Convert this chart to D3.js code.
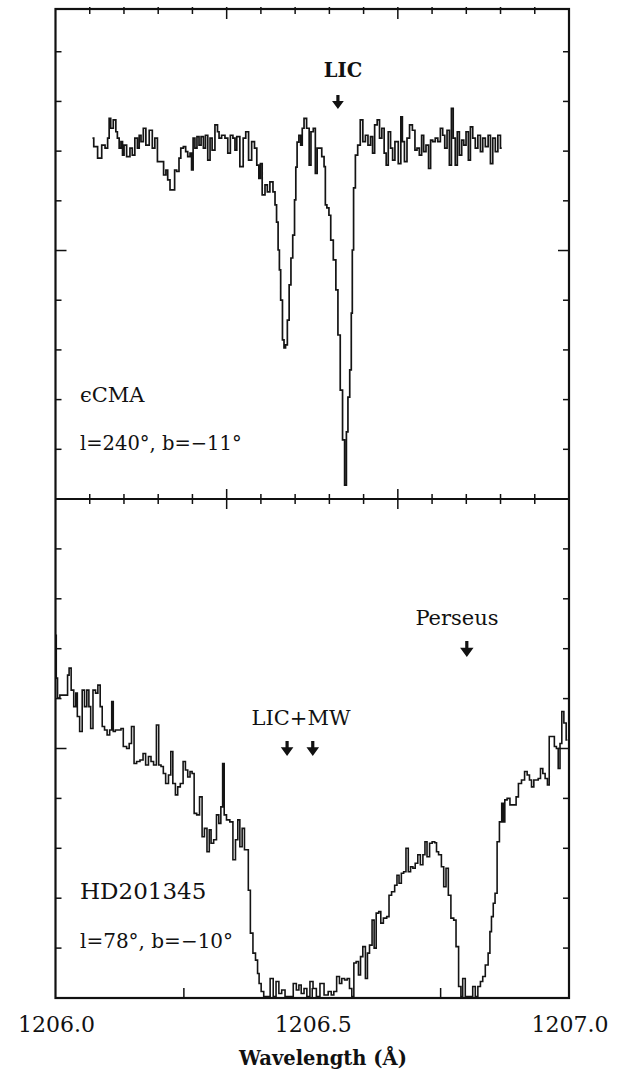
<!DOCTYPE html>
<html>
<head>
<meta charset="utf-8">
<script src="https://cdn.jsdelivr.net/npm/d3@7"></script>
<style>
  body { margin: 0; background: #fff; }
  text { font-family: "DejaVu Serif", serif; fill: #111; }
</style>
</head>
<body>
<div id="chart"></div>
<script>
// epsilon CMA spectrum: [wavelength (A), relative flux]
const cmaSpectrum = [
  [1206.072,0.726],[1206.077,0.709],[1206.087,0.686],[1206.093,0.712],[1206.100,0.706],[1206.103,0.726],[1206.106,0.766],[1206.109,0.746],[1206.116,0.763],[1206.119,0.739],
  [1206.122,0.726],[1206.126,0.706],[1206.129,0.719],[1206.132,0.692],[1206.135,0.712],[1206.142,0.689],[1206.148,0.706],[1206.151,0.692],[1206.158,0.726],[1206.161,0.706],
  [1206.165,0.732],[1206.168,0.719],[1206.174,0.746],[1206.178,0.712],[1206.187,0.742],[1206.190,0.706],[1206.197,0.726],[1206.200,0.679],[1206.208,0.679],[1206.213,0.652],
  [1206.217,0.662],[1206.220,0.642],[1206.226,0.622],[1206.231,0.622],[1206.233,0.662],[1206.239,0.659],[1206.242,0.686],[1206.246,0.706],[1206.252,0.709],[1206.255,0.699],
  [1206.260,0.689],[1206.264,0.696],[1206.266,0.662],[1206.270,0.726],[1206.273,0.706],[1206.278,0.729],[1206.281,0.712],[1206.286,0.729],[1206.290,0.706],[1206.294,0.732],
  [1206.299,0.682],[1206.303,0.726],[1206.307,0.702],[1206.314,0.753],[1206.317,0.739],[1206.320,0.726],[1206.327,0.732],[1206.333,0.726],[1206.338,0.696],[1206.343,0.732],
  [1206.348,0.726],[1206.351,0.702],[1206.355,0.729],[1206.363,0.669],[1206.368,0.726],[1206.373,0.739],[1206.379,0.682],[1206.385,0.719],[1206.390,0.706],[1206.394,0.672],
  [1206.398,0.645],[1206.400,0.675],[1206.405,0.612],[1206.411,0.632],[1206.414,0.618],[1206.421,0.638],[1206.426,0.618],[1206.429,0.592],[1206.432,0.557],[1206.435,0.501],
  [1206.437,0.461],[1206.440,0.400],[1206.444,0.320],[1206.446,0.304],[1206.450,0.310],[1206.453,0.360],[1206.457,0.431],[1206.460,0.485],[1206.464,0.531],[1206.467,0.602],
  [1206.469,0.668],[1206.472,0.718],[1206.476,0.732],[1206.479,0.712],[1206.482,0.746],[1206.486,0.766],[1206.492,0.746],[1206.496,0.672],[1206.499,0.739],[1206.505,0.746],
  [1206.507,0.655],[1206.512,0.706],[1206.516,0.706],[1206.521,0.689],[1206.525,0.669],[1206.526,0.592],[1206.531,0.586],[1206.534,0.571],[1206.538,0.521],[1206.544,0.481],
  [1206.548,0.421],[1206.552,0.330],[1206.557,0.219],[1206.561,0.119],[1206.565,0.028],[1206.568,0.135],[1206.571,0.205],[1206.575,0.260],[1206.577,0.374],[1206.579,0.501],
  [1206.582,0.626],[1206.586,0.692],[1206.591,0.712],[1206.596,0.763],[1206.601,0.719],[1206.606,0.732],[1206.611,0.712],[1206.616,0.729],[1206.619,0.696],[1206.624,0.753],
  [1206.629,0.763],[1206.633,0.726],[1206.638,0.746],[1206.642,0.696],[1206.646,0.672],[1206.650,0.739],[1206.655,0.706],[1206.658,0.682],[1206.664,0.719],[1206.671,0.675],
  [1206.674,0.769],[1206.677,0.719],[1206.682,0.679],[1206.687,0.726],[1206.692,0.753],[1206.698,0.742],[1206.702,0.702],[1206.706,0.706],[1206.711,0.692],[1206.715,0.732],
  [1206.719,0.699],[1206.724,0.712],[1206.729,0.665],[1206.732,0.722],[1206.737,0.719],[1206.742,0.726],[1206.747,0.719],[1206.752,0.746],[1206.756,0.732],[1206.760,0.706],
  [1206.765,0.742],[1206.769,0.672],[1206.773,0.786],[1206.776,0.726],[1206.781,0.672],[1206.784,0.739],[1206.789,0.692],[1206.793,0.722],[1206.797,0.712],[1206.802,0.739],
  [1206.806,0.682],[1206.810,0.749],[1206.815,0.726],[1206.820,0.706],[1206.825,0.732],[1206.830,0.699],[1206.834,0.726],[1206.840,0.709],[1206.845,0.732],[1206.849,0.675],
  [1206.854,0.726],[1206.859,0.699],[1206.864,0.732],[1206.869,0.706]
];

// HD201345 spectrum: [wavelength (A), relative flux]
const hdSpectrum = [
  [1206.000,0.727],[1206.003,0.641],[1206.005,0.601],[1206.012,0.607],[1206.022,0.607],[1206.025,0.647],[1206.028,0.661],[1206.033,0.617],[1206.038,0.584],[1206.041,0.611],
  [1206.044,0.564],[1206.050,0.534],[1206.054,0.617],[1206.059,0.584],[1206.063,0.617],[1206.067,0.584],[1206.070,0.540],[1206.076,0.617],[1206.080,0.611],[1206.085,0.627],
  [1206.089,0.584],[1206.093,0.544],[1206.098,0.537],[1206.103,0.527],[1206.108,0.537],[1206.111,0.594],[1206.114,0.534],[1206.119,0.537],[1206.126,0.537],[1206.129,0.540],
  [1206.135,0.504],[1206.142,0.500],[1206.145,0.510],[1206.151,0.544],[1206.155,0.470],[1206.161,0.474],[1206.168,0.477],[1206.173,0.490],[1206.178,0.467],[1206.184,0.484],
  [1206.188,0.474],[1206.194,0.467],[1206.199,0.547],[1206.203,0.467],[1206.208,0.464],[1206.212,0.450],[1206.217,0.430],[1206.223,0.447],[1206.226,0.494],[1206.231,0.430],
  [1206.236,0.407],[1206.240,0.423],[1206.246,0.430],[1206.251,0.474],[1206.255,0.457],[1206.260,0.443],[1206.264,0.454],[1206.268,0.450],[1206.272,0.370],[1206.278,0.367],
  [1206.283,0.403],[1206.288,0.323],[1206.292,0.340],[1206.298,0.293],[1206.301,0.337],[1206.305,0.310],[1206.311,0.317],[1206.316,0.367],[1206.320,0.350],[1206.324,0.383],
  [1206.327,0.470],[1206.330,0.367],[1206.336,0.357],[1206.343,0.353],[1206.348,0.277],[1206.353,0.317],[1206.357,0.357],[1206.361,0.303],[1206.366,0.340],[1206.370,0.297],
  [1206.374,0.297],[1206.377,0.216],[1206.382,0.130],[1206.387,0.090],[1206.392,0.076],[1206.395,0.049],[1206.398,0.029],[1206.403,0.013],[1206.408,0.003],[1206.414,0.003],
  [1206.422,0.039],[1206.426,0.003],[1206.433,0.033],[1206.437,0.009],[1206.444,0.016],[1206.450,0.003],[1206.460,0.003],[1206.466,0.029],[1206.472,0.016],[1206.476,0.026],
  [1206.481,0.009],[1206.487,0.019],[1206.492,0.003],[1206.499,0.033],[1206.504,0.019],[1206.512,0.003],[1206.518,0.029],[1206.528,0.006],[1206.534,0.013],[1206.540,0.006],
  [1206.544,0.013],[1206.551,0.043],[1206.555,0.029],[1206.560,0.039],[1206.566,0.036],[1206.570,0.039],[1206.575,0.019],[1206.579,0.003],[1206.583,0.070],[1206.588,0.073],
  [1206.592,0.046],[1206.596,0.083],[1206.601,0.103],[1206.606,0.039],[1206.609,0.090],[1206.614,0.106],[1206.619,0.156],[1206.622,0.100],[1206.627,0.170],[1206.632,0.173],
  [1206.635,0.150],[1206.642,0.160],[1206.648,0.163],[1206.651,0.206],[1206.658,0.213],[1206.663,0.226],[1206.667,0.246],[1206.671,0.230],[1206.676,0.250],[1206.680,0.253],
  [1206.685,0.300],[1206.689,0.253],[1206.694,0.263],[1206.698,0.260],[1206.703,0.270],[1206.708,0.287],[1206.713,0.267],[1206.718,0.287],[1206.721,0.313],[1206.726,0.283],
  [1206.731,0.310],[1206.736,0.313],[1206.741,0.311],[1206.743,0.293],[1206.749,0.287],[1206.754,0.263],[1206.758,0.223],[1206.763,0.260],[1206.767,0.206],[1206.773,0.160],
  [1206.778,0.156],[1206.782,0.103],[1206.788,0.023],[1206.791,0.003],[1206.795,0.039],[1206.801,0.003],[1206.810,0.003],[1206.815,0.023],[1206.820,0.003],[1206.825,0.023],
  [1206.830,0.033],[1206.834,0.043],[1206.840,0.066],[1206.845,0.090],[1206.847,0.133],[1206.851,0.163],[1206.854,0.190],[1206.858,0.210],[1206.862,0.313],[1206.867,0.353],
  [1206.871,0.390],[1206.873,0.353],[1206.877,0.397],[1206.882,0.400],[1206.888,0.387],[1206.895,0.387],[1206.899,0.403],[1206.904,0.430],[1206.911,0.437],[1206.916,0.454],
  [1206.921,0.447],[1206.925,0.437],[1206.929,0.423],[1206.934,0.437],[1206.938,0.437],[1206.942,0.440],[1206.947,0.460],[1206.951,0.450],[1206.956,0.440],[1206.960,0.427],
  [1206.963,0.524],[1206.969,0.524],[1206.974,0.504],[1206.977,0.500],[1206.981,0.460],[1206.984,0.510],[1206.988,0.574],[1206.992,0.551],[1206.997,0.517]
];

const xLabels = [1206.0, 1206.5, 1207.0];
const xQuarterTicks = [1206.25, 1206.5, 1206.75];
const yTickValues = [0.1, 0.2, 0.3, 0.4, 0.5, 0.6, 0.7, 0.8, 0.9];

// absorption component markers (wavelength of arrow)
const licMarks = [1206.550];
const licMwMarks = [1206.451, 1206.501];
const perseusMarks = [1206.801];

const W = 624, H = 1073;
const X0 = 55.5, X1 = 569;
const yTopEdge = 9, yMid = 499, yBottom = 998;

const svg = d3.select("#chart").append("svg")
  .attr("width", W)
  .attr("height", H);

svg.append("rect").attr("width", W).attr("height", H).attr("fill", "#fff");

const x = d3.scaleLinear().domain([1206, 1207]).range([X0, X1]);
const yTop = d3.scaleLinear().domain([0, 0.986]).range([yMid, yTopEdge]);
const yBot = d3.scaleLinear().domain([0, 1]).range([yBottom, yMid]);

// clip paths for the two panels
const defs = svg.append("defs");
defs.append("clipPath").attr("id", "clipTop").append("rect")
  .attr("x", X0).attr("y", yTopEdge).attr("width", X1 - X0).attr("height", yMid - yTopEdge);
defs.append("clipPath").attr("id", "clipBot").append("rect")
  .attr("x", X0).attr("y", yMid).attr("width", X1 - X0).attr("height", yBottom - yMid);

// spectra (histogram style)
const lineTop = d3.line().x(d => x(d[0])).y(d => yTop(d[1])).curve(d3.curveStep);
const lineBot = d3.line().x(d => x(d[0])).y(d => yBot(d[1])).curve(d3.curveStep);

svg.append("path")
  .datum(cmaSpectrum)
  .attr("clip-path", "url(#clipTop)")
  .attr("d", lineTop)
  .attr("fill", "none")
  .attr("stroke", "#141414")
  .attr("stroke-width", 1.7);

svg.append("path")
  .datum(hdSpectrum)
  .attr("clip-path", "url(#clipBot)")
  .attr("d", lineBot)
  .attr("fill", "none")
  .attr("stroke", "#141414")
  .attr("stroke-width", 1.6);

// frame
const frame = svg.append("g").attr("stroke", "#111").attr("fill", "none");
frame.append("rect")
  .attr("x", X0).attr("y", yTopEdge)
  .attr("width", X1 - X0).attr("height", yBottom - yTopEdge)
  .attr("stroke-width", 2.2);
frame.append("line")
  .attr("x1", X0).attr("x2", X1).attr("y1", yMid).attr("y2", yMid)
  .attr("stroke-width", 2.2);

// ticks along top edge and panel divider (15 intervals, every 5th long)
const ticks = svg.append("g").attr("stroke", "#111").attr("stroke-width", 1.5);
const edgeTicks = d3.range(1, 15).map(i => ({ v: 1206 + i / 15, major: i % 5 === 0 }));

ticks.selectAll("line.topedge")
  .data(edgeTicks)
  .join("line")
  .attr("class", "topedge")
  .attr("x1", d => x(d.v)).attr("x2", d => x(d.v))
  .attr("y1", yTopEdge - 2)
  .attr("y2", d => yTopEdge + (d.major ? 10 : 5));

ticks.selectAll("line.mid")
  .data(edgeTicks)
  .join("line")
  .attr("class", "mid")
  .attr("x1", d => x(d.v)).attr("x2", d => x(d.v))
  .attr("y1", d => yMid - (d.major ? 10 : 5))
  .attr("y2", d => yMid + (d.major ? 10 : 5));

// bottom axis ticks
ticks.selectAll("line.bottom")
  .data(xQuarterTicks)
  .join("line")
  .attr("class", "bottom")
  .attr("x1", d => x(d)).attr("x2", d => x(d))
  .attr("y1", yBottom)
  .attr("y2", yBottom - 10);

// left / right ticks on both panels
[yTop, yBot].forEach(ys => {
  const yt = yTickValues.map(v => ({ v, major: Math.abs(v - 0.5) < 1e-6 }));
  ticks.append("g").selectAll("line")
    .data(yt)
    .join("line")
    .attr("x1", X0).attr("x2", d => X0 + (d.major ? 11 : 6))
    .attr("y1", d => ys(d.v)).attr("y2", d => ys(d.v));
  ticks.append("g").selectAll("line")
    .data(yt)
    .join("line")
    .attr("x1", X1).attr("x2", d => X1 - (d.major ? 11 : 6))
    .attr("y1", d => ys(d.v)).attr("y2", d => ys(d.v));
});

// x labels
svg.append("g").selectAll("text")
  .data(xLabels)
  .join("text")
  .attr("x", d => x(d) + 1)
  .attr("y", 1032)
  .attr("text-anchor", "middle")
  .attr("font-size", "22px")
  .text(d => d3.format(".1f")(d));

svg.append("text")
  .attr("x", 323)
  .attr("y", 1065)
  .attr("text-anchor", "middle")
  .attr("font-size", "19.5px")
  .attr("font-weight", "bold")
  .text("Wavelength (Å)");

// down arrows
function arrows(marks, ys0, size) {
  const g = svg.append("g").attr("fill", "#111");
  g.selectAll("path")
    .data(marks)
    .join("path")
    .attr("d", d => {
      const cx = x(d), s = size, hw = 1.6, hy = ys0 + s * 0.42, head = s * 0.42;
      return `M${cx - hw},${ys0} L${cx + hw},${ys0} L${cx + hw},${hy}` +
             ` L${cx + head},${hy} L${cx},${ys0 + s} L${cx - head},${hy}` +
             ` L${cx - hw},${hy} Z`;
    });
}

arrows(licMarks, 95, 14);
arrows(licMwMarks, 741, 15);
arrows(perseusMarks, 641, 16);

// annotations
svg.append("text")
  .attr("x", 343).attr("y", 77)
  .attr("text-anchor", "middle")
  .attr("font-family", "Liberation Serif, serif")
  .attr("font-size", "19.5px")
  .attr("font-weight", "bold")
  .text("LIC");

svg.append("text")
  .attr("x", 301).attr("y", 725)
  .attr("text-anchor", "middle")
  .attr("font-family", "Liberation Serif, serif")
  .attr("font-size", "21px")
  .text("LIC+MW");

svg.append("text")
  .attr("x", 457).attr("y", 625)
  .attr("text-anchor", "middle")
  .attr("font-size", "21px")
  .text("Perseus");

svg.append("text")
  .attr("x", 80).attr("y", 402)
  .attr("font-size", "21px")
  .text("\u03f5CMA");

svg.append("text")
  .attr("x", 80).attr("y", 450)
  .attr("font-size", "19.5px")
  .text("l=240°, b=\u221211°");

svg.append("text")
  .attr("x", 80).attr("y", 899)
  .attr("font-size", "23px")
  .text("HD201345");

svg.append("text")
  .attr("x", 80).attr("y", 948)
  .attr("font-size", "20px")
  .text("l=78°, b=\u221210°");
</script>
</body>
</html>
